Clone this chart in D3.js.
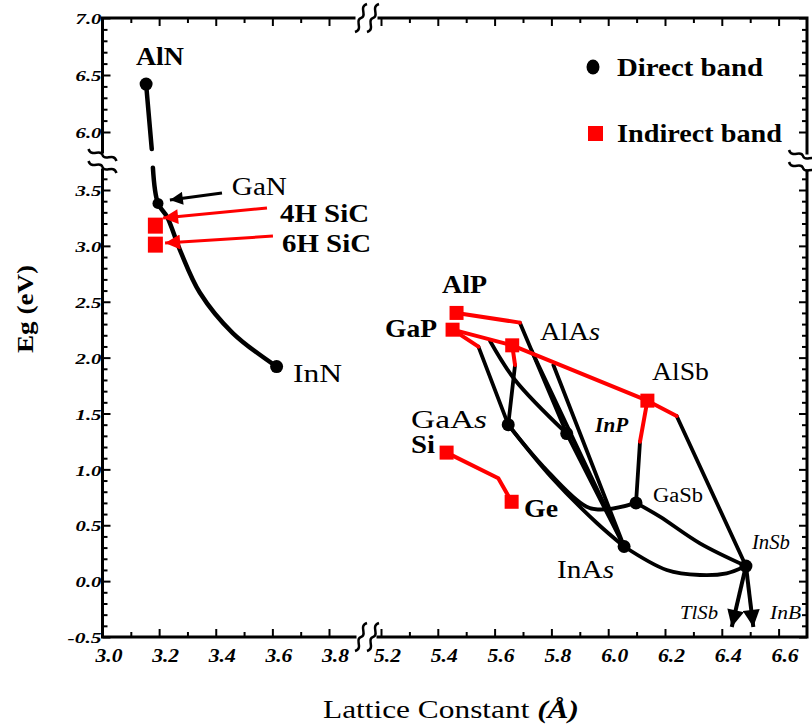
<!DOCTYPE html>
<html lang="en">
<head>
<meta charset="UTF-8">
<title>Band gap vs lattice constant</title>
<script src="https://d3js.org/d3.v7.min.js"></script>
<style>
  body { margin: 0; background: #fff; }
  svg { display: block; }
</style>
</head>
<body>
<div id="chart"></div>
<script>
// ---- data (lattice constant in angstrom, gap in eV) ----
var directNames   = ["AlN", "GaN", "InN", "GaAs", "InP", "GaSb", "InAs", "InSb"];
var directLattice = [3.154, 3.196, 3.615, 5.648, 5.854, 6.098, 6.056, 6.485];
var directGap     = [6.42, 3.38, 1.92, 1.40, 1.32, 0.70, 0.31, 0.135];

var indirectNames   = ["4H SiC", "6H SiC", "AlP", "GaP", "AlAs", "AlSb", "Si", "Ge"];
var indirectLattice = [3.185, 3.185, 5.466, 5.452, 5.662, 6.138, 5.431, 5.66];
var indirectGap     = [3.19, 3.02, 2.40, 2.25, 2.11, 1.615, 1.15, 0.71];

// alloy lines, [lattice, gap]
var nitrideTop = [[3.154, 6.42], [3.174, 5.85]];
var nitrideBottom = [[3.178, 3.70], [3.196, 3.38], [3.228, 3.26], [3.274, 2.96],
                     [3.344, 2.58], [3.46, 2.22], [3.615, 1.92]];

var redLines = [
  [[5.466, 2.40], [5.689, 2.313]],
  [[5.452, 2.25], [5.662, 2.11], [6.138, 1.615], [6.241, 1.478]],
  [[5.452, 2.25], [5.543, 2.098]],
  [[5.662, 2.11], [5.672, 1.934]],
  [[6.138, 1.615], [6.112, 1.248]],
  [[5.431, 1.15], [5.613, 0.92], [5.66, 0.71]]
];
var blackLines = [
  [[5.543, 2.098], [5.648, 1.40]],
  [[5.672, 1.934], [5.648, 1.40]],
  [[5.689, 2.313], [5.854, 1.32]],
  [[5.854, 1.32], [6.056, 0.31]],
  [[5.7305, 2.062], [6.056, 0.31]],
  [[5.807, 1.934], [6.056, 0.31]],
  [[6.112, 1.248], [6.098, 0.70]],
  [[6.241, 1.478], [6.485, 0.135]]
];
var blackCurves = [
  [[5.584, 2.149], [5.672, 1.80], [5.854, 1.32]],
  [[5.648, 1.40], [5.80, 0.93], [5.96, 0.52], [6.056, 0.31]],
  [[5.648, 1.40], [5.772, 1.024], [5.924, 0.666], [5.995, 0.642], [6.098, 0.70]],
  [[6.098, 0.70], [6.182, 0.577], [6.323, 0.338], [6.485, 0.135]],
  [[6.056, 0.31], [6.206, 0.10], [6.323, 0.055], [6.417, 0.07], [6.485, 0.135]]
];

// annotation arrows
var arrowFrom = [[3.422, 3.473], [3.581, 3.339], [3.602, 3.088], [6.485, 0.135], [6.485, 0.135]];
var arrowTip  = [[3.238, 3.41], [3.214, 3.249], [3.221, 3.026], [6.435, -0.41], [6.511, -0.41]];

// text labels
var labelNames   = ["AlN", "GaN", "4H SiC", "6H SiC", "InN", "AlP", "GaP", "AlAs", "AlSb",
                    "GaAs", "Si", "InP", "Ge", "GaSb", "InAs", "InSb", "TlSb", "InB"];
var labelLattice = [3.118, 3.457, 3.627, 3.634, 3.673, 5.415, 5.214, 5.760, 6.154,
                    5.306, 5.306, 5.954, 5.704, 6.158, 5.820, 6.506, 6.253, 6.570];
var labelGap     = [6.588, 3.455, 3.214, 2.945, 1.782, 2.578, 2.185, 2.158, 1.800,
                    1.370, 1.147, 1.334, 0.574, 0.708, 0.028, 0.287, -0.339, -0.339];

var xTicksLeft  = d3.range(30, 39).map(function(d) { return d / 10; });
var xTicksRight = d3.range(52, 67).map(function(d) { return d / 10; });
var yTicksLow   = d3.range(-5, 37).map(function(d) { return d / 10; });
var yTicksHigh  = d3.range(60, 71).map(function(d) { return d / 10; });

// ---- scales (broken axes) ----
var serif = '"Liberation Serif", "Times New Roman", serif';
var W = 812, H = 726;

var xLeft  = d3.scaleLinear().domain([3.0, 3.8]).range([102.5, 329]);
var xRight = d3.scaleLinear().domain([5.2, 6.7]).range([381, 807]);
var yLow   = d3.scaleLinear().domain([-0.5, 3.5]).range([637, 190]);
var yHigh  = d3.scaleLinear().domain([6.0, 7.0]).range([132, 18]);

function X(v) { return v < 4.5 ? xLeft(v) : xRight(v); }
function Y(v) { return v >= 5 ? yHigh(v) : yLow(v); }

var fLeft = xLeft(3.0), fRight = xRight(6.7), fTop = yHigh(7.0), fBottom = yLow(-0.5);
var breakX = 367, breakY = 161;

var svg = d3.select("#chart").append("svg")
  .attr("width", W).attr("height", H)
  .style("font-family", serif);

var defs = svg.append("defs");
function head(id, color, len, wid) {
  defs.append("marker")
    .attr("id", id)
    .attr("viewBox", "0 0 10 10")
    .attr("refX", 10).attr("refY", 5)
    .attr("markerUnits", "userSpaceOnUse")
    .attr("markerWidth", len).attr("markerHeight", wid)
    .attr("orient", "auto")
    .append("path").attr("d", "M0,0L10,5L0,10Z").attr("fill", color);
}
head("hBlack", "#000", 18, 13);
head("hRed", "#ff0000", 19, 15);
head("hBig", "#000", 18, 17);

var line = d3.line().x(function(d) { return X(d[0]); }).y(function(d) { return Y(d[1]); });
var curve = d3.line().x(function(d) { return X(d[0]); }).y(function(d) { return Y(d[1]); })
  .curve(d3.curveCatmullRom);

// ---- alloy lines ----
var g = svg.append("g").attr("fill", "none").attr("stroke-linecap", "round").attr("stroke-linejoin", "round");

g.selectAll(".nit").data([nitrideTop, nitrideBottom]).enter().append("path")
  .attr("d", curve).attr("stroke", "#000").attr("stroke-width", 4.5);

g.selectAll(".bl").data(blackLines).enter().append("path")
  .attr("d", line).attr("stroke", "#000").attr("stroke-width", 3.8);
g.selectAll(".bc").data(blackCurves).enter().append("path")
  .attr("d", curve).attr("stroke", "#000").attr("stroke-width", 3.8);
g.selectAll(".rl").data(redLines).enter().append("path")
  .attr("d", line).attr("stroke", "#ff0000").attr("stroke-width", 4);

// arrows
var arrowColor = ["#000", "#ff0000", "#ff0000", "#000", "#000"];
var arrowHead = ["hBlack", "hRed", "hRed", "hBig", "hBig"];
arrowFrom.forEach(function(p, i) {
  g.append("path")
    .attr("d", line([p, arrowTip[i]]))
    .attr("stroke", arrowColor[i])
    .attr("stroke-width", i < 3 ? 3 : 4)
    .attr("stroke-linecap", "butt")
    .attr("marker-end", "url(#" + arrowHead[i] + ")");
});

// ---- points ----
svg.append("g").selectAll("circle").data(directNames).enter().append("circle")
  .attr("cx", function(d, i) { return X(directLattice[i]); })
  .attr("cy", function(d, i) { return Y(directGap[i]); })
  .attr("r", function(d) { return d === "GaN" ? 5.5 : 6.5; })
  .attr("fill", "#000");

var sq = 14;
svg.append("g").selectAll("rect").data(indirectNames).enter().append("rect")
  .attr("x", function(d, i) { return X(indirectLattice[i]) - sq / 2; })
  .attr("y", function(d, i) { return Y(indirectGap[i]) - sq / 2; })
  .attr("width", function(d, i) { return i < 2 ? 15 : sq; })
  .attr("height", function(d, i) { return i < 2 ? 16 : sq; })
  .attr("fill", "#ff0000");

// ---- labels ----
// [size, weight, style, width]
var labelStyle = {
  "AlN": [26, "bold", "normal", 48], "GaN": [25, "normal", "normal", 55],
  "4H SiC": [25, "bold", "normal", 89], "6H SiC": [25, "bold", "normal", 89],
  "InN": [26, "normal", "normal", 49], "AlP": [25, "bold", "normal", 45],
  "GaP": [25, "bold", "normal", 52], "AlAs": [25, "normal", "normal", 60],
  "AlSb": [25, "normal", "normal", 57], "GaAs": [25, "normal", "normal", 76],
  "Si": [25, "bold", "normal", 24], "InP": [20, "bold", "italic", 33],
  "Ge": [25, "bold", "normal", 34], "GaSb": [20, "normal", "normal", 50],
  "InAs": [25, "normal", "normal", 57], "InSb": [20, "normal", "italic", 38],
  "TlSb": [19, "normal", "italic", 38], "InB": [19, "normal", "italic", 31]
};
var lab = svg.append("g");
labelNames.forEach(function(name, i) {
  var s = labelStyle[name];
  var t = lab.append("text")
    .attr("x", X(labelLattice[i]))
    .attr("y", Y(labelGap[i]))
    .attr("font-size", s[0])
    .attr("font-weight", s[1])
    .attr("font-style", s[2])
    .attr("textLength", s[3])
    .attr("lengthAdjust", "spacingAndGlyphs");
  if (/As$/.test(name)) {
    t.append("tspan").text(name.slice(0, -1));
    t.append("tspan").attr("font-style", "italic").text("s");
  } else {
    t.text(name);
  }
});

// legend
var leg = svg.append("g").attr("transform", "translate(593,0)");
leg.append("ellipse").attr("cx", 0).attr("cy", 67).attr("rx", 6.5).attr("ry", 7.5).attr("fill", "#000");
leg.append("rect").attr("x", -5).attr("y", 126).attr("width", 15).attr("height", 15).attr("fill", "#ff0000");
leg.append("text").attr("x", 24).attr("y", 76).attr("font-size", 25).attr("font-weight", "bold")
  .attr("textLength", 146).attr("lengthAdjust", "spacingAndGlyphs").text("Direct band");
leg.append("text").attr("x", 24).attr("y", 142).attr("font-size", 25).attr("font-weight", "bold")
  .attr("textLength", 165).attr("lengthAdjust", "spacingAndGlyphs").text("Indirect band");

// ---- axes ----
var fmt = function(d) { return d.toFixed(1); };
function isMajorX(d) { return Math.round(d * 10) % 2 === 0; }
function isMajorY(d) { return Math.round(d * 10) % 5 === 0; }

function styleTicks(sel) {
  sel.select(".domain").remove();
  sel.selectAll(".tick line").attr("stroke", "#000").attr("stroke-width", 2);
}

function xAxes(scale, ticks) {
  var major = ticks.filter(isMajorX), minor = ticks.filter(function(d) { return !isMajorX(d); });
  svg.append("g").attr("transform", "translate(0," + fBottom + ")")
    .call(d3.axisBottom(scale).tickValues(major).tickSize(-8).tickPadding(12).tickFormat(fmt))
    .call(styleTicks)
    .call(function(s) {
      s.selectAll("text")
        .attr("dx", 6)
        .attr("font-family", serif).attr("font-size", 19)
        .attr("font-weight", "bold").attr("font-style", "italic")
        .attr("fill", "#000")
        .attr("textLength", 27).attr("lengthAdjust", "spacingAndGlyphs");
    });
  svg.append("g").attr("transform", "translate(0," + fBottom + ")")
    .call(d3.axisBottom(scale).tickValues(minor).tickSize(-5).tickFormat(""))
    .call(styleTicks);
  svg.append("g").attr("transform", "translate(0," + fTop + ")")
    .call(d3.axisTop(scale).tickValues(major).tickSize(-8).tickFormat(""))
    .call(styleTicks);
  svg.append("g").attr("transform", "translate(0," + fTop + ")")
    .call(d3.axisTop(scale).tickValues(minor).tickSize(-5).tickFormat(""))
    .call(styleTicks);
}
xAxes(xLeft, xTicksLeft);
xAxes(xRight, xTicksRight);

function yAxes(scale, ticks) {
  var major = ticks.filter(isMajorY), minor = ticks.filter(function(d) { return !isMajorY(d); });
  svg.append("g").attr("transform", "translate(" + fLeft + ",0)")
    .call(d3.axisLeft(scale).tickValues(major).tickSize(-8).tickPadding(1).tickFormat(fmt))
    .call(styleTicks)
    .call(function(s) {
      s.selectAll("text")
        .attr("dy", "0.38em")
        .attr("font-family", serif).attr("font-size", 15)
        .attr("font-weight", "bold").attr("font-style", "italic")
        .attr("fill", "#000")
        .attr("textLength", function(d) { return d < 0 ? 34 : 26; })
        .attr("lengthAdjust", "spacingAndGlyphs");
    });
  svg.append("g").attr("transform", "translate(" + fLeft + ",0)")
    .call(d3.axisLeft(scale).tickValues(minor).tickSize(-5).tickFormat(""))
    .call(styleTicks);
  svg.append("g").attr("transform", "translate(" + fRight + ",0)")
    .call(d3.axisRight(scale).tickValues(major).tickSize(-8).tickFormat(""))
    .call(styleTicks);
  svg.append("g").attr("transform", "translate(" + fRight + ",0)")
    .call(d3.axisRight(scale).tickValues(minor).tickSize(-5).tickFormat(""))
    .call(styleTicks);
}
yAxes(yLow, yTicksLow);
yAxes(yHigh, yTicksHigh);

// frame with breaks
var frame = d3.path();
frame.moveTo(fLeft, fTop); frame.lineTo(breakX - 13, fTop);
frame.moveTo(breakX + 12, fTop); frame.lineTo(fRight, fTop);
frame.moveTo(fRight, fTop); frame.lineTo(fRight, breakY - 8);
frame.moveTo(fRight, breakY + 10); frame.lineTo(fRight, fBottom);
frame.moveTo(fLeft, fBottom); frame.lineTo(breakX - 12, fBottom);
frame.moveTo(breakX + 11, fBottom); frame.lineTo(fRight, fBottom);
frame.moveTo(fLeft, fTop); frame.lineTo(fLeft, breakY - 9);
frame.moveTo(fLeft, breakY + 9); frame.lineTo(fLeft, fBottom);
svg.append("path").attr("d", frame.toString())
  .attr("fill", "none").attr("stroke", "#000").attr("stroke-width", 3).attr("stroke-linecap", "square");

// squiggle break marks
var squig = "M-6,14C3,11-7,2 0,0C7,-2-3,-11 6,-14";
function breakMark(x, y, rot) {
  var b = svg.append("g").attr("transform", "translate(" + x + "," + y + ") rotate(" + rot + ")");
  [-6, 6].forEach(function(o) {
    b.append("path").attr("d", squig).attr("transform", "translate(" + o + ",0)")
      .attr("fill", "none").attr("stroke", "#000").attr("stroke-width", 2.5);
  });
}
breakMark(breakX, fTop, 0);
breakMark(breakX, fBottom, 0);
breakMark(fLeft, breakY, 90);
breakMark(fRight - 4, breakY + 1, 90);

// axis titles
svg.append("text")
  .attr("transform", "translate(33,309) rotate(-90)")
  .attr("text-anchor", "middle")
  .attr("font-size", 24).attr("font-weight", "bold")
  .attr("textLength", 88).attr("lengthAdjust", "spacingAndGlyphs")
  .text("Eg (eV)");

var xt = svg.append("text")
  .attr("x", 451).attr("y", 718)
  .attr("text-anchor", "middle")
  .attr("font-size", 25).attr("font-weight", "normal")
  .attr("textLength", 256).attr("lengthAdjust", "spacingAndGlyphs");
xt.append("tspan").text("Lattice Constant ");
xt.append("tspan").attr("font-style", "italic").attr("font-weight", "bold").text("(Å)");
</script>
</body>
</html>
